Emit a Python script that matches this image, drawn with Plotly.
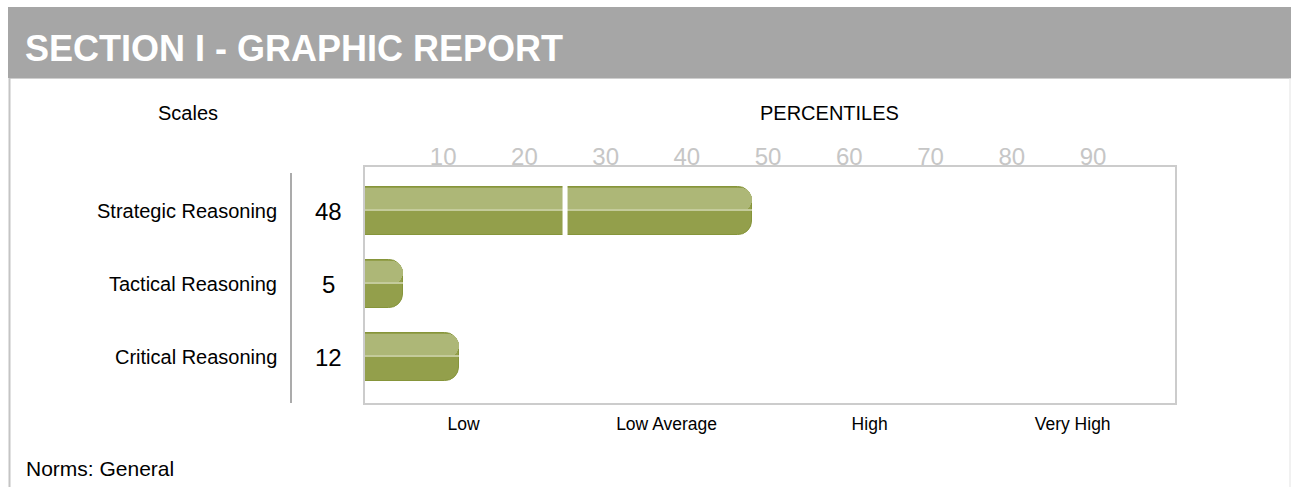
import plotly.graph_objects as go

W, H = 1291, 487

# ---- data ----
scales = ["Strategic Reasoning", "Tactical Reasoning", "Critical Reasoning"]
percentiles = [48, 5, 12]
tick_values = [10, 20, 30, 40, 50, 60, 70, 80, 90]
band_labels = ["Low", "Low Average", "High", "Very High"]
band_centers = [12.5, 37.5, 62.5, 87.5]
band_edges = [25, 50, 75]

FONT = "Liberation Sans, Arial, sans-serif"


def px_x(p):
    return p / W


def px_y(p):
    return 1 - p / H


fig = go.Figure()

BAR_W = 0.67
HALF = BAR_W / 2
PAD = 0.014

# dark full bar (bottom colour + outline)
fig.add_trace(go.Bar(
    y=scales, x=percentiles, orientation="h", width=BAR_W,
    marker=dict(color="#939f4b", line=dict(color="#86953a", width=1), cornerradius=14),
    hoverinfo="skip", showlegend=False,
))
# light top half
fig.add_trace(go.Bar(
    y=scales, x=percentiles, orientation="h", width=HALF - PAD, offset=-HALF + PAD,
    marker=dict(color="#adb777", line=dict(width=0), cornerradius=12),
    hoverinfo="skip", showlegend=False,
))
# thin highlight in the middle
fig.add_trace(go.Bar(
    y=scales, x=percentiles, orientation="h", width=0.024, offset=-0.018,
    marker=dict(color="#c4cb9b", line=dict(width=0)),
    hoverinfo="skip", showlegend=False,
))
# invisible trace to carry the band axis
fig.add_trace(go.Scatter(
    x=band_centers, y=[scales[0]] * len(band_centers), xaxis="x2", mode="none",
    hoverinfo="skip", showlegend=False,
))

shapes = [
    # header band
    dict(type="rect", xref="paper", yref="paper", x0=px_x(8), x1=1.0, y0=px_y(78), y1=px_y(7),
         fillcolor="#a6a6a6", line=dict(width=0), layer="below"),
    dict(type="line", xref="paper", yref="paper", x0=px_x(9), x1=1.0, y0=px_y(78.5), y1=px_y(78.5),
         line=dict(color="#cfcfcf", width=1), layer="below"),
    # frame
    dict(type="line", xref="paper", yref="paper", x0=px_x(9.5), x1=px_x(9.5), y0=px_y(78), y1=0,
         line=dict(color="#c4c4c4", width=2), layer="below"),
    dict(type="line", xref="paper", yref="paper", x0=px_x(1290), x1=px_x(1290), y0=px_y(78), y1=0,
         line=dict(color="#e3e3e3", width=1), layer="below"),
    # separator
    dict(type="line", xref="paper", yref="paper", x0=px_x(291), x1=px_x(291), y0=px_y(173), y1=px_y(403),
         line=dict(color="#ababab", width=2), layer="below"),
]
for e in band_edges:
    shapes.append(dict(type="line", xref="x", yref="y domain", x0=e, x1=e, y0=0.01, y1=0.99,
                       line=dict(color="white", width=5), layer="above"))

annotations = [
    dict(text="SECTION I - GRAPHIC REPORT", xref="paper", yref="paper", x=px_x(23), y=px_y(48),
         xanchor="left", yanchor="middle", showarrow=False,
         font=dict(family=FONT, size=36, color="white", weight="bold")),
    dict(text="Scales", xref="paper", yref="paper", x=px_x(188), y=px_y(113),
         xanchor="center", yanchor="middle", showarrow=False, font=dict(family=FONT, size=20, color="black")),
    dict(text="PERCENTILES", xref="paper", yref="paper", x=px_x(829), y=px_y(113),
         xanchor="center", yanchor="middle", showarrow=False, font=dict(family=FONT, size=20, color="black")),
    dict(text="Norms: General", xref="paper", yref="paper", x=px_x(24), y=px_y(468),
         xanchor="left", yanchor="middle", showarrow=False, font=dict(family=FONT, size=21, color="black")),
]
for s, v in zip(scales, percentiles):
    annotations.append(dict(text=s, xref="paper", yref="y", x=px_x(279), y=s, xanchor="right",
                            yanchor="middle", showarrow=False, font=dict(family=FONT, size=20, color="black")))
    annotations.append(dict(text=str(v), xref="paper", yref="y", x=px_x(329), y=s, xanchor="center",
                            yanchor="middle", showarrow=False, font=dict(family=FONT, size=24, color="black")))

x_range = [0.37, 100.1]
fig.update_layout(
    width=W, height=H, margin=dict(l=0, r=0, t=0, b=0),
    paper_bgcolor="white", plot_bgcolor="white",
    barmode="overlay", bargap=0,
    shapes=shapes, annotations=annotations,
    xaxis=dict(domain=[px_x(365), px_x(1175)], range=x_range, side="top",
               tickvals=tick_values, ticks="", showgrid=False, zeroline=False,
               showline=True, mirror=True, linecolor="#cccccc", linewidth=2,
               ticklabelstandoff=-10,
               tickfont=dict(family=FONT, size=24, color="#c6c6c6"), fixedrange=True),
    xaxis2=dict(overlaying="x", anchor="y", side="bottom", range=x_range,
                tickvals=band_centers, ticktext=band_labels, ticks="outside", ticklen=5,
                tickcolor="rgba(0,0,0,0)", showgrid=False, zeroline=False, showline=False,
                tickfont=dict(family=FONT, size=17.5, color="black"), fixedrange=True),
    yaxis=dict(domain=[px_y(403), px_y(167)], type="category", categoryorder="array",
               categoryarray=scales, range=[2.63, -0.603], showticklabels=False,
               ticks="", showgrid=False, zeroline=False, showline=True, mirror=True,
               linecolor="#cccccc", linewidth=2, fixedrange=True),
)

fig.write_html("out.html", config={"displayModeBar": False},
               post_script="document.body.style.margin='0';document.body.style.overflow='hidden';")
